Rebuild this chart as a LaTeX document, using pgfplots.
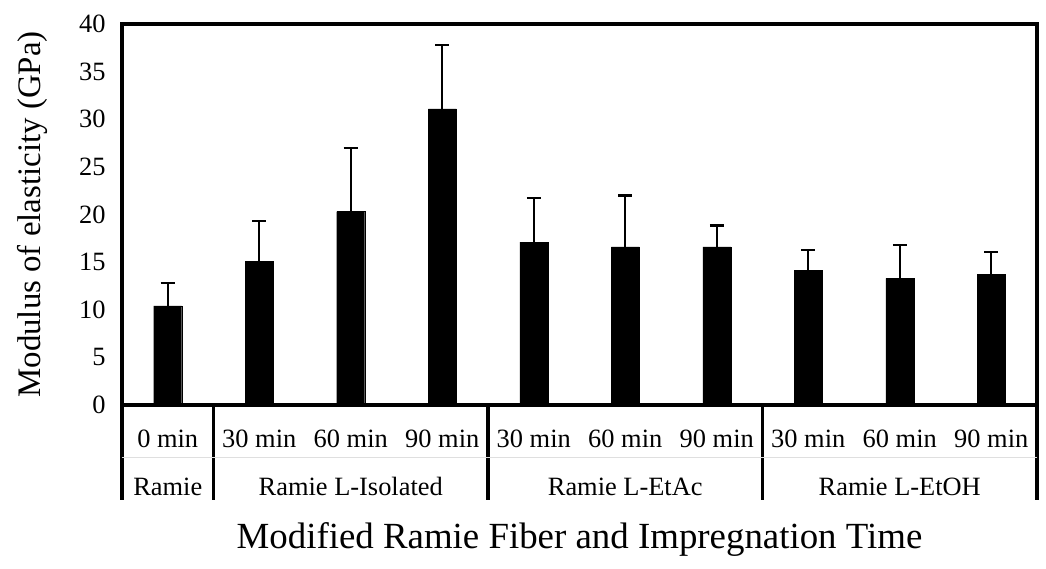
\documentclass[border=0pt]{standalone}
\usepackage{pgfplots}
\pgfplotsset{compat=1.18}
\usepackage{fontspec}
\setmainfont{Liberation Serif}
\begin{document}
\begin{tikzpicture}
\path[use as bounding box] (-122bp,-164bp) rectangle (924bp,405bp);
\begin{axis}[
  at={(0,0)}, anchor=south west,
  scale only axis,
  width=915bp, height=381bp,
  xmin=-0.5, xmax=9.5,
  ymin=0, ymax=40,
  ytick={0,5,...,40},
  xtick={0,...,9},
  xticklabels={0 min,30 min,60 min,90 min,30 min,60 min,90 min,30 min,60 min,90 min},
  xtick pos=bottom, ytick pos=left,
  major tick length=0pt,
  /pgf/number format/assume math mode=true,
  tick label style={font=\fontsize{26.5}{28}\selectfont},
  xticklabel style={anchor=base, yshift=-42bp},
  yticklabel style={xshift=-13bp},
  extra x ticks={-0.5,0.5,3.5,6.5,9.5},
  extra x tick labels={},
  extra x tick style={major tick length=95bp, tick align=outside, tick style={line width=3.8bp, black}},
  clip=false,
  xlabel={Modified Ramie Fiber and Impregnation Time},
  every axis x label/.style={at={(axis description cs:0.5,-0.354)}, anchor=center, font=\fontsize{37}{40}\selectfont},
  ylabel={Modulus of elasticity (GPa)},
  every axis y label/.style={at={(axis description cs:-0.0973,0.5)}, rotate=90, anchor=center, font=\fontsize{33}{36}\selectfont},
]
\addplot[ybar, bar width=28bp, fill=black, draw=black, line width=0.4bp,
  error bars/.cd, y dir=plus, y explicit,
  error bar style={line width=2.1bp, black},
  error mark options={rotate=90, mark size=7bp, line width=2.1bp, black}]
 coordinates {
  (0,10.4) +- (0,2.4)
  (1,15.1) +- (0,4.2)
  (2,20.3) +- (0,6.7)
  (3,31.1) +- (0,6.7)
  (4,17.1) +- (0,4.65)
  (5,16.6) +- (0,5.4)
  (6,16.6) +- (0,2.25)
  (7,14.1) +- (0,2.2)
  (8,13.3) +- (0,3.5)
  (9,13.7) +- (0,2.4)
 };
\draw[black, line width=4bp] (rel axis cs:0,0) rectangle (rel axis cs:1,1);
\draw[gray!25, line width=0.8bp] ([yshift=-52bp]axis cs:-0.5,0) -- ([yshift=-52bp]axis cs:9.5,0);
\node[anchor=base, font=\fontsize{26.5}{28}\selectfont] at ([yshift=-90bp]axis cs:0,0) {Ramie};
\node[anchor=base, font=\fontsize{26.5}{28}\selectfont] at ([yshift=-90bp]axis cs:2,0) {Ramie L-Isolated};
\node[anchor=base, font=\fontsize{26.5}{28}\selectfont] at ([yshift=-90bp]axis cs:5,0) {Ramie L-EtAc};
\node[anchor=base, font=\fontsize{26.5}{28}\selectfont] at ([yshift=-90bp]axis cs:8,0) {Ramie L-EtOH};
\end{axis}
\end{tikzpicture}
\end{document}
